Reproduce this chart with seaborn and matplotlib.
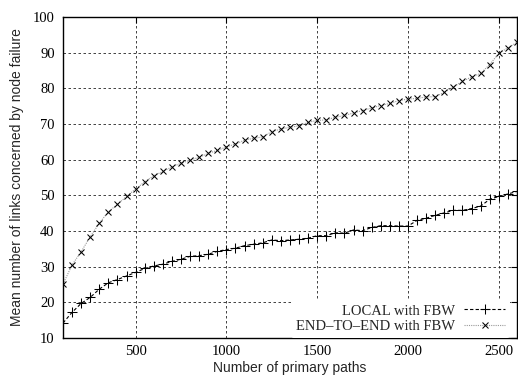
import numpy as np
import pandas as pd
import matplotlib
matplotlib.use("Agg")
import matplotlib.pyplot as plt
import seaborn as sns

# number of primary paths (x axis)
paths = list(range(100, 2601, 50))

# mean number of links concerned by node failure
local_fbw = [14.2, 17.2, 19.7, 21.4, 23.7, 25.5, 26.4, 27.4, 28.4, 29.5,
             30.2, 30.7, 31.5, 32.1, 32.9, 33.1, 33.5, 34.3, 34.8, 35.2,
             35.9, 36.3, 36.7, 37.5, 37.3, 37.5, 37.7, 38.0, 38.7, 38.7,
             39.5, 39.4, 40.3, 40.1, 41.0, 41.5, 41.5, 41.4, 41.4, 43.0,
             43.6, 44.4, 45.1, 45.8, 45.8, 46.3, 47.0, 48.9, 49.7, 50.4,
             51.1]
e2e_fbw = [25.1, 30.5, 34.2, 38.4, 42.2, 45.4, 47.5, 49.7, 51.8, 53.8,
           55.5, 56.7, 58.0, 59.0, 59.9, 60.7, 61.8, 62.6, 63.6, 64.4,
           65.5, 66.0, 66.4, 67.9, 68.6, 69.1, 69.5, 70.5, 71.0, 71.2,
           71.9, 72.4, 73.1, 73.8, 74.5, 75.2, 75.8, 76.6, 77.0, 77.2,
           77.6, 77.7, 78.9, 80.4, 82.0, 83.2, 84.2, 86.7, 89.8, 91.4,
           92.9]

df = pd.DataFrame({"paths": paths, "local": local_fbw, "e2e": e2e_fbw})

sns.set_style("white")
serif = ["Liberation Serif", "DejaVu Serif"]
sans = ["Liberation Sans", "DejaVu Sans"]

fig = plt.figure(figsize=(5.18, 3.76), dpi=100)
ax = fig.add_axes([0.1216, 0.101, 0.8764, 0.8536])

sns.lineplot(data=df, x="paths", y="local", ax=ax, color="black",
             linewidth=0.8, linestyle=(0, (3, 2)), marker="+",
             markersize=7, markeredgewidth=0.75, markeredgecolor="black",
             label="LOCAL with FBW")
sns.lineplot(data=df, x="paths", y="e2e", ax=ax, color="#999999",
             linewidth=0.8, linestyle=(0, (1, 1)), marker="x",
             markersize=5, markeredgewidth=0.75, markeredgecolor="black",
             label="END\u2013TO\u2013END with FBW")

ax.set_xlim(100, 2600)
ax.set_ylim(10, 100)
ax.set_xticks([500, 1000, 1500, 2000, 2500])
ax.set_yticks(range(10, 101, 10))
ax.grid(True, color="#222222", linestyle=(0, (3, 3)), linewidth=0.6)
ax.set_axisbelow(True)
for s in ax.spines.values():
    s.set_color("black")
    s.set_linewidth(1.0)
ax.tick_params(direction="in", length=4, width=0.8, top=True, right=True,
               labelsize=10.5, pad=5, colors="black")
ax.tick_params(axis="y", pad=6)
for lab in ax.get_xticklabels() + ax.get_yticklabels():
    lab.set_family(serif)

ax.set_xlabel("Number of primary paths", family=sans, fontsize=10, labelpad=2)
ax.set_ylabel("Mean number of links concerned by node failure", family=sans,
              fontsize=10, labelpad=6)

leg = ax.legend(loc="lower right", markerfirst=False, frameon=True,
                prop={"family": serif, "size": 10.5}, handlelength=2.8,
                handletextpad=0.6, borderaxespad=0.0, borderpad=0.35,
                labelspacing=0.15, bbox_to_anchor=(0.985, 0.0))
leg.get_frame().set_facecolor("white")
leg.get_frame().set_edgecolor("none")
leg.get_frame().set_alpha(1)
for t in leg.get_texts():
    t.set_ha("right")

fig.savefig("out.png", dpi=100)
